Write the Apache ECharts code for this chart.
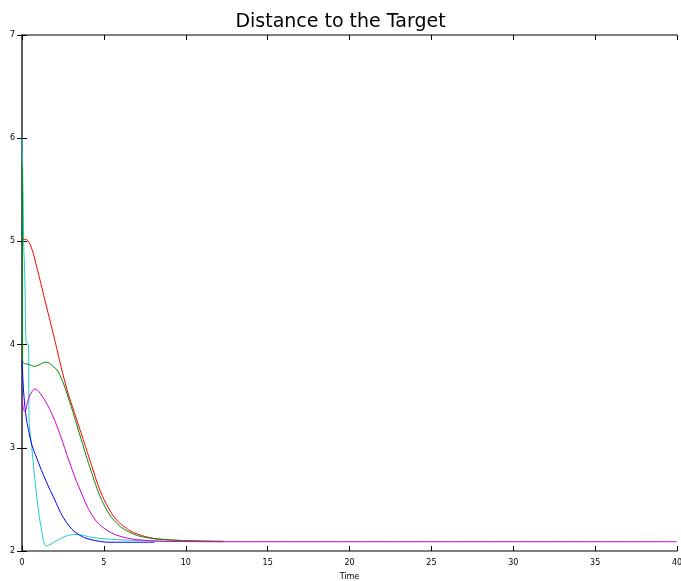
<!DOCTYPE html>
<html>
<head>
<meta charset="utf-8">
<script src="https://cdn.jsdelivr.net/npm/echarts@6/dist/echarts.min.js"></script>
<style>
  html, body { margin: 0; padding: 0; background: #fff; overflow: hidden; }
  #chart { width: 100vw; height: 100vh; }
</style>
</head>
<body>
<div id="chart"></div>
<script>
// Distance to the target over time, one trajectory per agent: [time, distance]
const redRun = [[0,5.02],[0.2,5.02],[0.5,4.97],[0.9,4.75],[1.4,4.43],[1.9,4.11],[2.7,3.59],[3.2,3.34],[3.74,3.08],[4.25,2.83],[4.76,2.59],[5.27,2.42],[5.78,2.30],[6.3,2.23],[6.8,2.18],[7.8,2.13],[8.8,2.11],[10,2.10],[11,2.095],[12.3,2.09]];
const greenRun = [[0,5.76],[0.02,5.3],[0.04,3.86],[0.1,3.82],[0.4,3.81],[0.75,3.79],[1.0,3.80],[1.45,3.83],[1.9,3.79],[2.3,3.71],[2.9,3.45],[3.6,3.09],[4.25,2.76],[4.97,2.46],[5.78,2.27],[6.8,2.165],[7.8,2.125],[8.8,2.11],[10,2.10],[12.3,2.095]];
const magentaRun = [[0,3.48],[0.08,3.38],[0.18,3.35],[0.35,3.45],[0.55,3.53],[0.8,3.57],[1.1,3.53],[1.7,3.37],[2.3,3.14],[2.9,2.86],[3.5,2.61],[4.35,2.33],[5.2,2.20],[6.3,2.13],[7.8,2.10],[9,2.093],[12,2.09],[40,2.09]];
const blueRun = [[0,3.86],[0.06,3.65],[0.12,3.50],[0.25,3.30],[0.4,3.17],[0.6,3.03],[0.9,2.90],[1.3,2.74],[1.9,2.53],[2.7,2.28],[3.5,2.155],[4.5,2.10],[5.6,2.085],[8.1,2.085]];
const cyanRun = [[0,6.0],[0.05,5.6],[0.08,5.3],[0.1,5.0],[0.18,4.6],[0.25,4.02],[0.4,4.0],[0.43,3.3],[0.6,3.0],[0.9,2.53],[1.2,2.2],[1.47,2.05],[1.7,2.06],[2.0,2.09],[2.7,2.145],[3.3,2.16],[4.35,2.13],[5.8,2.11],[7.8,2.10],[9,2.095]];

const runs = [
  { data: cyanRun, color: '#20c8c8' },
  { data: blueRun, color: '#0000ff' },
  { data: redRun, color: '#ff0000' },
  { data: greenRun, color: '#008800' },
  { data: magentaRun, color: '#cc00cc' }
];

const axisColor = '#555555';
const tickFont = { color: '#000', fontSize: 8, fontFamily: 'DejaVu Sans' };

const chart = echarts.init(document.getElementById('chart'), null, { renderer: 'canvas' });
chart.setOption({
  animation: false,
  title: {
    text: 'Distance to the Target',
    left: 'center',
    top: 8,
    textStyle: { fontFamily: 'DejaVu Sans', fontSize: 19, fontWeight: 'normal', color: '#000' }
  },
  grid: { left: 22, right: 4, top: 35, bottom: 30, containLabel: false, outerBoundsMode: 'none' },
  xAxis: [
    {
      type: 'value', min: 0, max: 40, interval: 5,
      name: 'Time', nameLocation: 'middle', nameGap: 22,
      nameTextStyle: { color: '#000', fontSize: 8, fontFamily: 'DejaVu Sans' },
      axisLine: { lineStyle: { color: axisColor, width: 1.5 } },
      axisTick: { inside: true, length: 5, lineStyle: { color: '#000' } },
      axisLabel: Object.assign({ margin: 8 }, tickFont),
      splitLine: { show: false }
    },
    {
      type: 'value', min: 0, max: 40, interval: 5, position: 'top',
      axisLine: { lineStyle: { color: axisColor, width: 1.5 } },
      axisTick: { inside: true, length: 5, lineStyle: { color: '#000' } },
      axisLabel: { show: false },
      splitLine: { show: false }
    }
  ],
  yAxis: [
    {
      type: 'value', min: 2, max: 7, interval: 1,
      axisLine: { show: true, lineStyle: { color: axisColor, width: 1.5 } },
      axisTick: { show: true, inside: true, length: 5, lineStyle: { color: '#000' } },
      axisLabel: Object.assign({ margin: 7 }, tickFont),
      splitLine: { show: false }
    },
    {
      type: 'value', min: 2, max: 7, interval: 1, position: 'right',
      axisLine: { show: true, lineStyle: { color: axisColor, width: 1.5 } },
      axisTick: { show: true, inside: true, length: 5, lineStyle: { color: '#000' } },
      axisLabel: { show: false },
      splitLine: { show: false }
    }
  ],
  series: runs.map((r, i) => ({
    type: 'line',
    data: r.data,
    xAxisIndex: 0,
    yAxisIndex: 0,
    showSymbol: false,
    smooth: 0.4,
    z: 2 + i,
    lineStyle: { color: r.color, width: 1 }
  }))
});
</script>
</body>
</html>
